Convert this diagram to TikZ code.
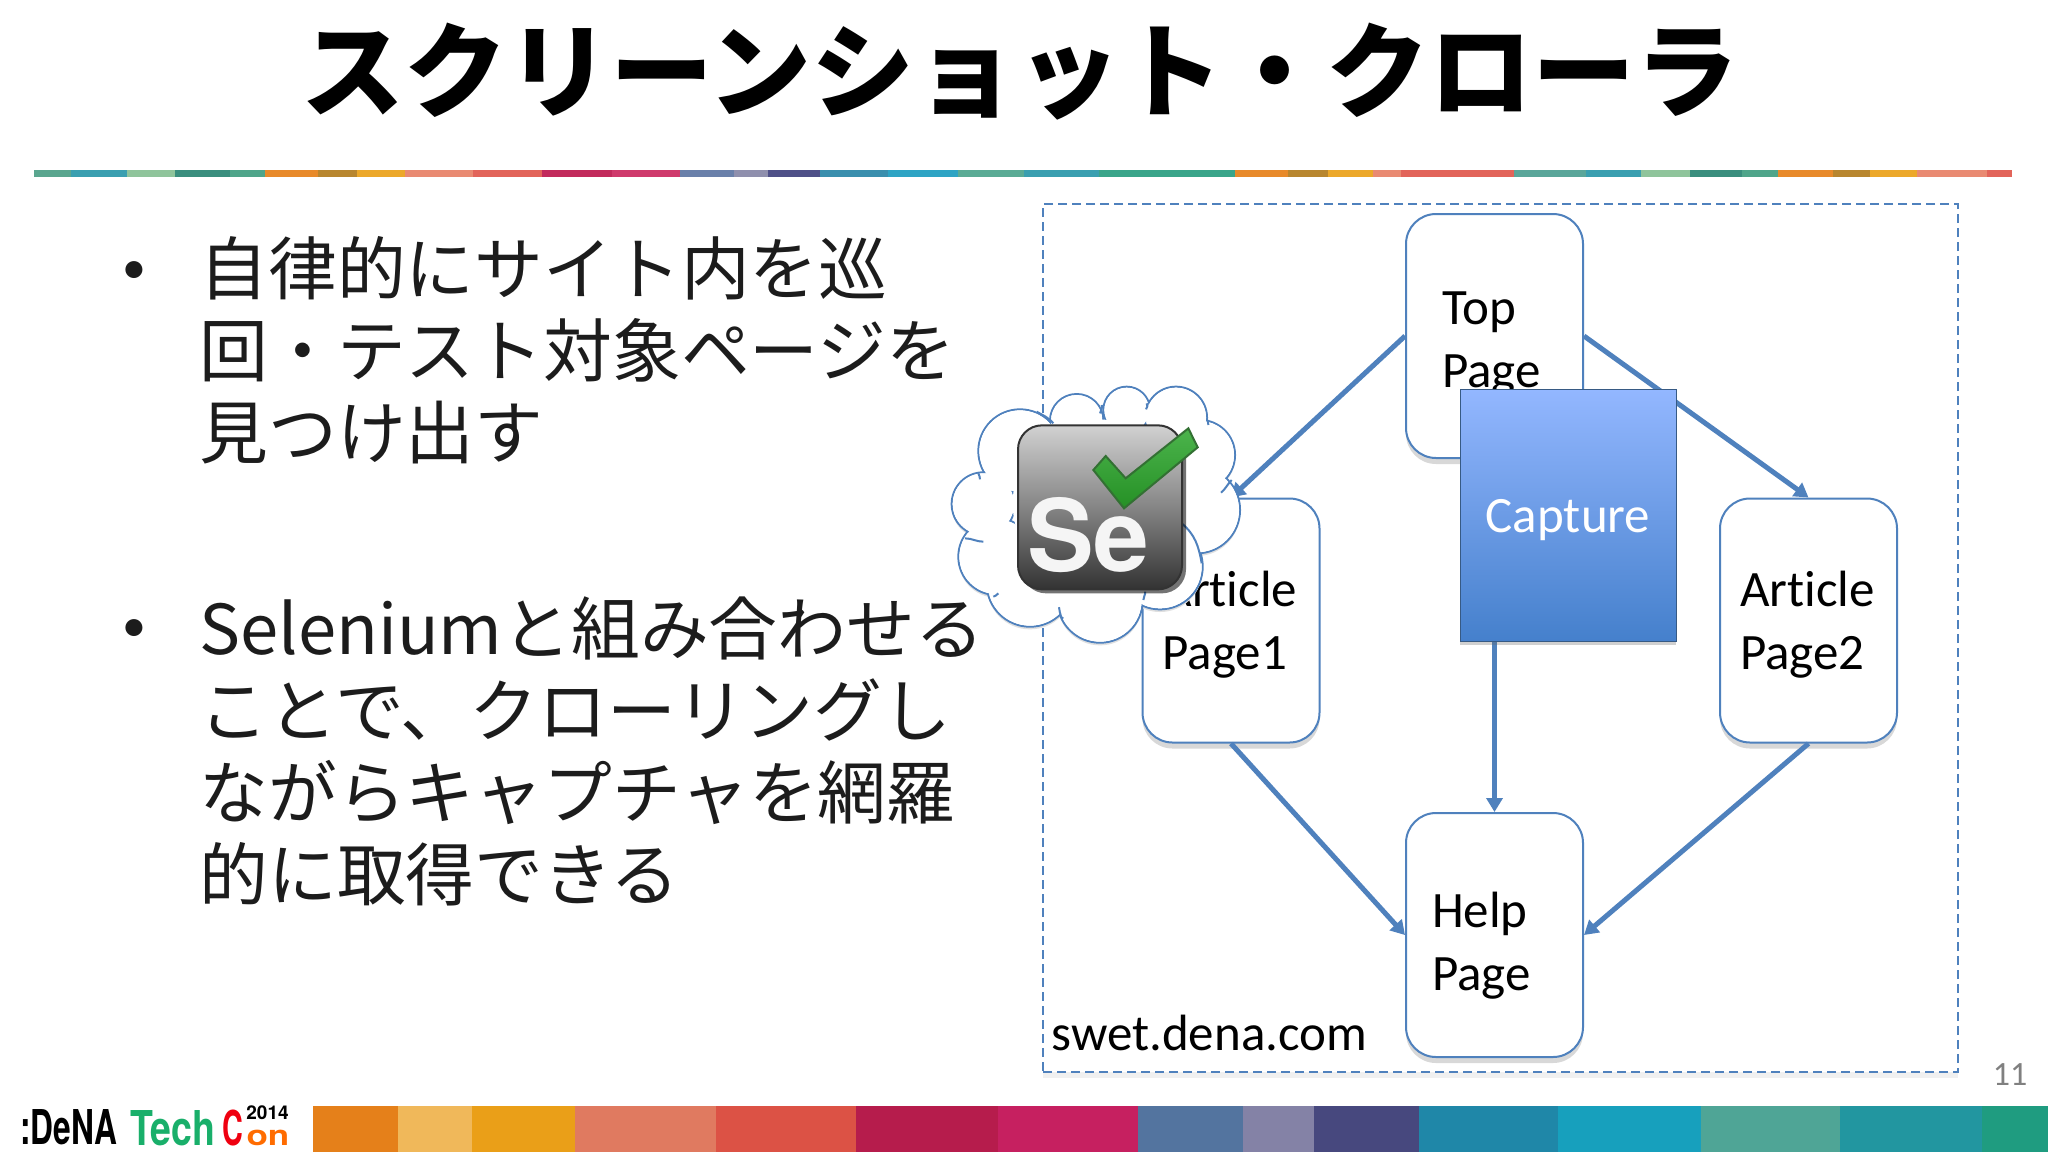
\documentclass[tikz,border=0pt]{standalone}
\usepackage{fontspec}
\setmainfont{Carlito}[Ligatures=CommonOff]
\newfontfamily\cjk{Noto Sans CJK JP}
\newfontfamily\heros{TeX Gyre Heros}
\usetikzlibrary{arrows.meta,positioning,shadows,shapes}
\definecolor{edgeblue}{HTML}{4F81BD}
\definecolor{bodyblack}{HTML}{1C1C1C}
\definecolor{capturetop}{HTML}{93B7FF}
\definecolor{capturebot}{HTML}{4580CC}
\definecolor{checktop}{HTML}{4CB44C}
\definecolor{checkbot}{HTML}{259025}
\tikzset{
  pagebox/.style={draw=edgeblue, line width=1pt, fill=white, rounded corners=15pt,
    minimum height=122pt, text width=88.5pt-2*#1, inner xsep=#1, inner ysep=0pt, align=left,
    font=\fontsize{25.5}{31.5}\selectfont,
    drop shadow={shadow xshift=0pt, shadow yshift=-3pt, opacity=.25, fill=black!60}},
  textdrop/.style={execute at begin node=\rule{0pt}{#1}},
  flow/.style={draw=edgeblue, line width=2.5pt, -{Triangle[length=7pt,width=8pt]}},
  bodytext/.style={inner sep=0pt, anchor=west, align=left, text=bodyblack,
    font=\cjk\fontsize{34.4}{41}\selectfont},
  bulletmark/.style={inner sep=0pt, text=bodyblack, font=\heros\fontsize{34}{41}\selectfont},
  logotext/.style={inner sep=0pt, font=\heros\bfseries\fontsize{24}{24}\selectfont},
}
\begin{document}
\begin{tikzpicture}[x=0.5pt,y=-0.5pt]
  \useasboundingbox (0,0) rectangle (2048,1152);
  \fill[white] (0,0) rectangle (2048,1152);

  % title and rule
  \node[inner sep=0pt, font=\cjk\bfseries\fontsize{51.5}{60}\selectfont] (title) at (1020,72) {スクリーンショット・クローラ};
  \foreach \a/\b/\c in {34/71/5AA68F,71/127/3A9FB0,127/175/8FC49B,175/230/3A8E7E,230/265/4FA58A,
      265/318/E88A2A,318/357/B8862F,357/405/ECA82A,405/473/E98A72,473/542/E2645A,542/612/C22A5C,
      612/680/CF3A6C,680/734/6A80AA,734/768/8F8FAD,768/820/4F5088,820/888/3A8FAE,888/958/2EA4C4,
      958/1024/5AAB95,1024/1099/3A9FB0,1099/1235/3AA58A,1235/1288/E88A2A,1288/1328/B8862F,
      1328/1373/ECA82A,1373/1401/E98A72,1401/1514/E2645A,1514/1586/5AA69A,1586/1641/3A9FB0,
      1641/1690/8FC49B,1690/1742/3A8E7E,1742/1778/4FA58A,1778/1833/E88A2A,1833/1870/B8862F,
      1870/1917/ECA82A,1917/1987/E98A72,1987/2012/E2645A}{
    \definecolor{stripcol}{HTML}{\c}
    \fill[stripcol] (\a,170) rectangle (\b,177);
  }

  % bullets
  \node[bulletmark] (bullet1) at (134,278) {•};
  \node[bodytext] (point1) at (199,350) {自律的にサイト内を巡\\回・テスト対象ページを\\見つけ出す};
  \node[bulletmark] (bullet2) at (134,636) {•};
  \node[bodytext] (point2) at (199,751) {Seleniumと組み合わせる\\ことで、クローリングし\\ながらキャプチャを網羅\\的に取得できる};

  % site frame
  \node[draw=edgeblue, line width=1.2pt, dash pattern=on 4.5pt off 2.5pt, minimum width=457.5pt, minimum height=434pt, inner sep=0pt,
    drop shadow={shadow xshift=0pt, shadow yshift=-3pt, opacity=.06, fill=black}, fill=white] (site) at (1500.5,638) {};
  \node[inner sep=0pt, anchor=west, font=\fontsize{25.5}{30}\selectfont] (domain) at (1051,1033) {swet.dena.com};

  % pages
  \node[pagebox=18pt, textdrop=24pt] (toppage) at (1494.5,336) {Top\\Page};
  \node[pagebox=10pt, textdrop=22pt] (article1) at (1231,620.5) {Article\\Page1};
  \node[pagebox=10pt, textdrop=22pt] (article2) at (1808.5,620.5) {Article\\Page2};
  \node[pagebox=13pt, textdrop=28pt] (helppage) at (1494.5,935) {Help\\Page};

  \draw[flow] (toppage.west) -- (article1.north);
  \draw[flow] (toppage.east) -- (article2.north);
  \draw[flow] (toppage.south) -- (helppage.north);
  \draw[flow] (article1.south) -- (helppage.west);
  \draw[flow] (article2.south) -- (helppage.east);

  \node[draw=edgeblue!70!black, line width=.5pt, top color=capturetop, bottom color=capturebot,
    minimum width=108pt, minimum height=126pt, inner sep=0pt, text=white, font=\fontsize{25.5}{30}\selectfont,
    textdrop=22pt, drop shadow={shadow xshift=0pt, shadow yshift=-2pt, opacity=.3, fill=black!60}] (capture) at (1568,515) {Capture};

  % cloud, drawn in steps of a third of a pixel
  \begin{scope}[shift={(930,370)},x=0.16667pt,y=-0.16667pt]
    \foreach \cx/\cy/\r in {270/243/125,440/152/80,590/120/70,738/143/93,810/255/105,800/420/130,
        690/590/128,510/690/128,300/640/130,200/560/115,160/402/95}{
      \fill[black!12] (\cx,\cy+8) circle[radius=\r*0.16667pt];
    }
    \foreach \cx/\cy/\r in {270/243/125,440/152/80,590/120/70,738/143/93,810/255/105,800/420/130,
        690/590/128,510/690/128,300/640/130,200/560/115,160/402/95}{
      \draw[edgeblue, line width=1pt, fill=white] (\cx,\cy) circle[radius=\r*0.16667pt];
    }
    \foreach \cx/\cy/\r in {270/243/125,440/152/80,590/120/70,738/143/93,810/255/105,800/420/130,
        690/590/128,510/690/128,300/640/130,200/560/115,160/402/95}{
      \fill[white] (\cx,\cy) circle[radius=\r*0.16667pt-0.5pt];
    }
    \fill[white] (500,400) circle[radius=42pt];
    % inner ends of the lobes
    \draw[edgeblue, line width=1pt]
      (515,105) to[out=-60,in=90] (510,130)
      (650,100) to[out=-50,in=60] (648,118)
      (833,150) to[out=-80,in=80] (835,165)
      (905,330) to[out=-135,in=40] (873,368)
      (815,580) to[out=100,in=-40] (755,460)
      (640,690) to[out=100,in=-70] (645,665)
      (385,715) to[out=70,in=180] (400,745)
      (190,680) to[out=-10,in=200] (205,670)
      (105,505) to[out=0,in=180] (160,515)
      (145,310) to[out=-70,in=90] (150,328)
      (320,125) to[out=-30,in=130] (370,160);
    % selenium logo
    \node[draw=black!80, line width=1pt, rounded corners=12pt, minimum width=82pt, minimum height=82pt, inner sep=0pt,
      top color=black!18, bottom color=black!80, middle color=black!48,
      drop shadow={shadow xshift=2pt, shadow yshift=-2pt, opacity=.55, fill=black}] (selenium) at (510,412) {};
    \node[inner sep=0pt, text=black!4, font=\heros\bfseries\fontsize{50}{50}\selectfont] (seltext) at (475,495) {Se};
    \draw[draw=black!70!green!80, line width=1pt, line join=miter, top color=checktop, bottom color=checkbot]
      (490,300) -- (527,258) -- (587,325) -- (775,175) -- (803,232) -- (582,415) -- cycle;
  \end{scope}

  % page number
  \node[inner sep=0pt, text=black!50, font=\fontsize{17}{20}\selectfont] (pagenum) at (2010,1075) {11};

  % bottom strip
  \foreach \a/\b/\c in {313/398/E5801A,398/472/F0B85A,472/575/EA9F18,575/716/E07A60,716/856/DC5245,
      856/998/B61C4C,998/1138/C62060,1138/1243/53749F,1243/1314/8482A6,1314/1419/47487E,1419/1558/1F87A8,
      1558/1701/17A0BD,1701/1840/4FA596,1840/1982/2296A0,1982/2048/1F9C80}{
    \definecolor{stripcol}{HTML}{\c}
    \fill[stripcol] (\a,1106) rectangle (\b,1152);
  }

  % event logo
  \node[logotext, xscale=.66, anchor=west] (dena) at (20,1127) {:DeNA};
  \node[logotext, xscale=.78, anchor=west, text=teal!70!green!90!white] (techword) at (130,1128) {Tech};
  \node[logotext, xscale=.6, anchor=west, text=red!75!purple] (conc) at (222,1128) {C};
  \node[logotext, xscale=1.25, anchor=west, text=orange!85!red, font=\heros\bfseries\fontsize{14}{14}\selectfont] (conrest) at (246,1138) {on};
  \node[logotext, anchor=west, font=\heros\bfseries\fontsize{9.5}{9.5}\selectfont] (logoyear) at (246,1113) {2014};
\end{tikzpicture}
\end{document}
